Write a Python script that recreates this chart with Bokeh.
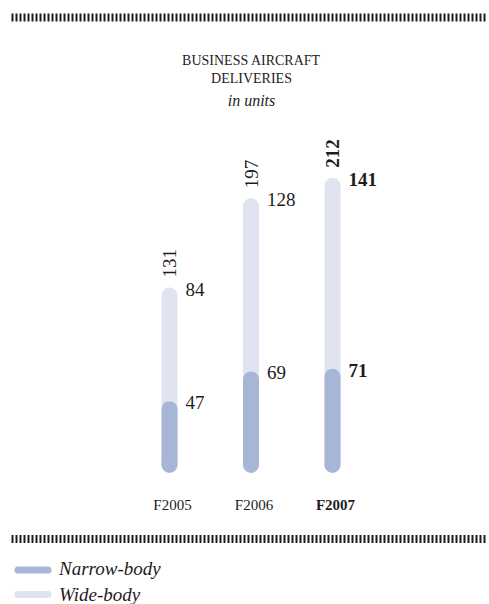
import math
from bokeh.plotting import figure
from bokeh.models import Range1d, Label, Legend, LegendItem, ColumnDataSource
from bokeh.core.properties import value, field
from bokeh.embed import file_html
from bokeh.resources import INLINE

# ---------------- data ----------------
years = ["F2005", "F2006", "F2007"]
narrow_body = [47, 69, 71]
wide_body = [84, 128, 141]
totals = [n + w for n, w in zip(narrow_body, wide_body)]

title_lines = ["BUSINESS AIRCRAFT", "DELIVERIES"]
subtitle = "in units"
series_names = ["Narrow-body", "Wide-body"]

# ---------------- style ----------------
W, H = 489, 604
NARROW = "#a7b6d7"
WIDE = "#e0e4f1"
INK = "#1f1c1d"
SERIF = "Liberation Serif"
emphasis = ["normal", "normal", "bold"]

X0_PX, X_STEP = 169, 81.5        # pixel of first bar centre, pixels between bars
Y0_PX, Y_SCALE = 464.4, 1.354    # pixel (from top) of zero, pixels per unit

x_range = Range1d(-X0_PX / X_STEP, (W - X0_PX) / X_STEP)
y_range = Range1d((Y0_PX - H) / Y_SCALE, Y0_PX / Y_SCALE)


def dx(px):
    return (px - X0_PX) / X_STEP


def dy(py):
    return (Y0_PX - py) / Y_SCALE


p = figure(width=W, height=H, x_range=x_range, y_range=y_range,
           output_backend="svg", toolbar_location=None, min_border=0,
           x_axis_type=None, y_axis_type=None, outline_line_color=None,
           background_fill_color="white", border_fill_color="white")
p.grid.visible = False

idx = list(range(len(years)))
src = ColumnDataSource(dict(
    x=idx, year=years, narrow=narrow_body, wide=wide_body, total=totals,
    style=emphasis,
    nlab=[str(v) for v in narrow_body],
    wlab=[str(v) for v in wide_body],
    tlab=[str(v) for v in totals],
))

BAR_W = 16 / X_STEP
p.vbar(x="x", bottom=0, top="total", width=BAR_W, fill_color=WIDE,
       line_color=None, border_radius=(8, 8, 0, 0), source=src)
p.vbar(x="x", bottom=0, top="narrow", width=BAR_W, fill_color=NARROW,
       line_color=None, border_radius=(8, 8, 0, 0), source=src)
p.scatter(x="x", y=0, size=16, marker="circle", fill_color=NARROW,
          line_color=None, source=src)

common = dict(text_font=value(SERIF), text_color=INK,
              text_font_style=field("style"), source=src)
p.text(x="x", y="narrow", text="nlab", x_offset=16, y_offset=-5,
       text_baseline="top", text_align="left", text_font_size="19px", **common)
p.text(x="x", y="total", text="wlab", x_offset=16, y_offset=-5,
       text_baseline="top", text_align="left", text_font_size="19px", **common)
p.text(x="x", y="total", text="tlab", angle=math.pi / 2, y_offset=-10,
       text_baseline="middle", text_align="left", text_font_size="19px", **common)
p.text(x="x", y=0, text="year", x_offset=3, y_offset=40, text_baseline="alphabetic",
       text_align="center", text_font_size="15px", **common)

# separators (tick rules)
p.segment(x0=[dx(11), dx(11)], y0=[dy(17), dy(538.5)],
          x1=[dx(487), dx(487)], y1=[dy(17), dy(538.5)],
          line_width=8, line_dash="2 2", line_color=INK)

# title
for text, base, style, size in [(title_lines[0], 60, "normal", "14px"),
                                 (title_lines[1], 78, "normal", "14px"),
                                 (subtitle, 100, "italic", "16px")]:
    p.add_layout(Label(x=251, y=H - base, x_units="screen", y_units="screen",
                       text=text, text_align="center", text_baseline="alphabetic",
                       text_font=SERIF, text_font_size=size, text_font_style=style,
                       text_color=INK))

# legend: rounded swatches drawn as segments, labels by the Legend
p.segment(x0=[dx(17.5), dx(17.5)], y0=[dy(569.5), dy(594)],
          x1=[dx(47.5), dx(47.5)], y1=[dy(569.5), dy(594)],
          line_width=7, line_cap="round", line_color=[NARROW, WIDE])
nan = float("nan")
r_n = p.line(x=[nan], y=[nan], line_width=7, line_color=NARROW, line_alpha=0)
r_w = p.line(x=[nan], y=[nan], line_width=7, line_color=WIDE, line_alpha=0)
legend = Legend(items=[LegendItem(label=series_names[0], renderers=[r_n]),
                       LegendItem(label=series_names[1], renderers=[r_w])],
                location=(17, -2), glyph_width=30, glyph_height=20,
                label_height=20, label_standoff=12, spacing=4, padding=0,
                margin=0, border_line_color=None, background_fill_alpha=0,
                label_text_font=SERIF, label_text_font_style="italic",
                label_text_font_size="19px", label_text_color=INK)
p.add_layout(legend)

open("out.html", "w").write(file_html(p, INLINE))
